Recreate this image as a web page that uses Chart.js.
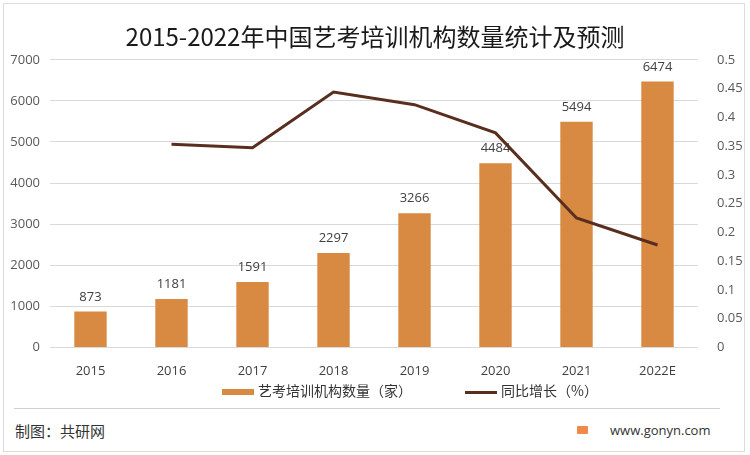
<!DOCTYPE html>
<html>
<head>
<meta charset="utf-8">
<script src="https://cdn.jsdelivr.net/npm/chart.js@4"></script>
<style>
  html, body { margin:0; padding:0; background:#fff; }
  body { width:750px; height:455px; position:relative; overflow:hidden;
         font-family:"Noto Sans CJK SC", "Noto Sans", sans-serif; }
  .frame { position:absolute; left:3px; top:3px; width:740px; height:447px;
           border:1px solid #dcdcdc; }
  #wrap { position:absolute; left:0; top:0; width:750px; height:391px; }
  .legend { position:absolute; top:380px; left:0; width:750px; font-size:14px; color:#333; }
  .legend .item { position:absolute; top:0; white-space:nowrap; }
  .legend .bar { display:inline-block; width:32px; height:6px; background:#D98A42; vertical-align:middle; margin-right:4px; }
  .legend .ln { display:inline-block; width:32px; height:3px; background:#5A2E1E; vertical-align:middle; margin-right:4px; }
  .sep { position:absolute; left:14px; top:408px; width:706px; height:1px; background:#d0d0d0; }
  .foot-l { position:absolute; left:15px; top:420px; font-size:15px; color:#333; }
  .foot-r { position:absolute; left:610px; top:421px; font-size:13px; color:#333; font-family:"Open Sans", sans-serif; }
  .logo { position:absolute; left:577px; top:426px; width:11px; height:8px; background:#F08A4B; border-radius:1px; }
</style>
</head>
<body>
<div class="frame"></div>
<div id="wrap"><canvas id="c"></canvas></div>
<div class="legend">
  <span class="item" style="left:222px"><span class="bar"></span>艺考培训机构数量（家）</span>
  <span class="item" style="left:465px"><span class="ln"></span>同比增长（%）</span>
</div>
<div class="sep"></div>
<div class="foot-l">制图：共研网</div>
<div class="logo"></div>
<div class="foot-r">www.gonyn.com</div>
<script>
const YEARS = ["2015","2016","2017","2018","2019","2020","2021","2022E"];
const COUNTS = [873, 1181, 1591, 2297, 3266, 4484, 5494, 6474];
const GROWTH = [null, 0.353, 0.347, 0.444, 0.422, 0.373, 0.225, 0.178];
const LEFT_MAX = 7000, LEFT_STEP = 1000;
const RIGHT_MAX = 0.5, RIGHT_STEP = 0.05;

// 柱顶数值标签（在折线之前画）
const barLabels = {
  id: "barLabels",
  afterDatasetDraw(chart, args) {
    if (args.index !== 1) return;
    const ctx = chart.ctx;
    ctx.save();
    ctx.font = "13px 'Open Sans', sans-serif";
    ctx.fillStyle = "#404040";
    ctx.textAlign = "center";
    ctx.textBaseline = "bottom";
    args.meta.data.forEach((el, i) => {
      ctx.fillText(COUNTS[i], el.x, el.y - 8);
    });
    ctx.restore();
  }
};

new Chart(document.getElementById("c"), {
  data: {
    labels: YEARS,
    datasets: [
      { type:"line", label:"同比增长（%）", data:GROWTH, yAxisID:"y1",
        borderColor:"#5A2E1E", borderWidth:3, pointRadius:0, tension:0, order:0 },
      { type:"bar", label:"艺考培训机构数量（家）", data:COUNTS, yAxisID:"y",
        backgroundColor:"#D98A42", barPercentage:0.8, categoryPercentage:0.5, order:1 }
    ]
  },
  plugins: [barLabels],
  options: {
    responsive:true, maintainAspectRatio:false, animation:false,
    layout:{ padding:{ left:0, right:0, top:0, bottom:4 } },
    plugins:{
      legend:{ display:false },
      tooltip:{ enabled:false },
      title:{ display:true, text:"2015-2022年中国艺考培训机构数量统计及预测",
        color:"#1a1a1a", font:{ size:24, family:"'Noto Sans CJK SC', sans-serif", weight:"normal" },
        padding:{ top:22, bottom:9 } }
    },
    scales:{
      x:{ grid:{ display:false }, border:{ display:false },
          ticks:{ color:"#404040", font:{ size:13, family:"'Open Sans', sans-serif" }, padding:8 } },
      y:{ position:"left", min:0, max:LEFT_MAX,
          afterFit: s => { s.width = 50; },
          grid:{ color:"#d9d9d9", drawTicks:false }, border:{ display:false },
          ticks:{ stepSize:LEFT_STEP, color:"#595959", padding:10,
                  font:{ size:13, family:"'Open Sans', sans-serif" },
                  callback: v => String(v) } },
      y1:{ position:"right", min:0, max:RIGHT_MAX,
          afterFit: s => { s.width = 52; },
          grid:{ display:false }, border:{ display:false },
          ticks:{ stepSize:RIGHT_STEP, color:"#595959", padding:11,
                  font:{ size:13, family:"'Open Sans', sans-serif" },
                  callback: v => String(parseFloat(v.toFixed(2))) } }
    }
  }
});
</script>
</body>
</html>
